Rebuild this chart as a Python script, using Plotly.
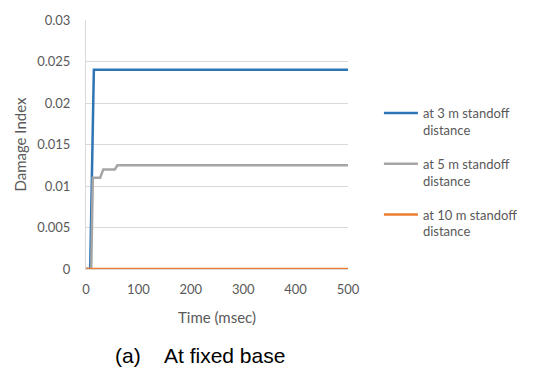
import plotly.graph_objects as go

# Data
t_3m = [0, 8, 15, 500]
di_3m = [0, 0, 0.024, 0.024]

t_5m = [0, 10, 13, 27, 33, 55, 60, 500]
di_5m = [0, 0, 0.011, 0.011, 0.012, 0.012, 0.0125, 0.0125]

t_10m = [0, 500]
di_10m = [0, 0]

names = ["at 3 m standoff<br>distance", "at 5 m standoff<br>distance", "at 10 m standoff<br>distance"]
colors = ["#2E75B6", "#A5A5A5", "#ED7D31"]

x_ticks = [0, 100, 200, 300, 400, 500]
y_ticks = [0, 0.005, 0.01, 0.015, 0.02, 0.025, 0.03]
y_tick_text = ["0", "0.005", "0.01", "0.015", "0.02", "0.025", "0.03"]

fig = go.Figure()
for i, (xs, ys, nm, c) in enumerate(zip([t_3m, t_5m, t_10m], [di_3m, di_5m, di_10m], names, colors)):
    fig.add_trace(go.Scatter(x=xs, y=ys, mode="lines", name=nm, legendgroup=f"g{i}",
                             line=dict(color=c, width=2.5)))

font_main = "Lato, 'Open Sans', sans-serif"
grey = "#595959"
fig.update_layout(
    width=535, height=367,
    margin=dict(l=86, r=186, t=17, b=98),
    paper_bgcolor="white", plot_bgcolor="white",
    font=dict(family=font_main, size=13, color=grey),
    xaxis=dict(range=[0, 500], tickvals=x_ticks, showgrid=False, zeroline=False,
               showline=True, linecolor="#D9D9D9", ticks="", ticklabelstandoff=8,
               title=dict(text="Time (msec)", font=dict(size=15, color=grey), standoff=16),
               tickfont=dict(size=13, color=grey)),
    yaxis=dict(range=[0, 0.03], tickvals=y_ticks, ticktext=y_tick_text,
               showgrid=True, gridcolor="#D9D9D9", zeroline=False,
               showline=True, linecolor="#D9D9D9", ticks="", ticklabelstandoff=12,
               title=dict(text="Damage Index", font=dict(size=15, color=grey), standoff=6),
               tickfont=dict(size=13, color=grey)),
    legend=dict(x=1.118, y=0.687, xanchor="left", yanchor="top", valign="top",
                font=dict(size=13, color=grey), tracegroupgap=14, itemwidth=34,
                bgcolor="rgba(0,0,0,0)"),
    showlegend=True,
)
fig.add_annotation(text="(a)&nbsp;&nbsp;&nbsp;&nbsp;At fixed base", xref="paper", yref="paper",
                   x=0.1027, y=-0.349, xanchor="left", yanchor="middle", showarrow=False,
                   font=dict(family="'Liberation Sans', Arial, sans-serif", size=21, color="#000000"))

fig.write_html("out.html", config={"displayModeBar": False},
               post_script="document.body.style.margin='0';")
